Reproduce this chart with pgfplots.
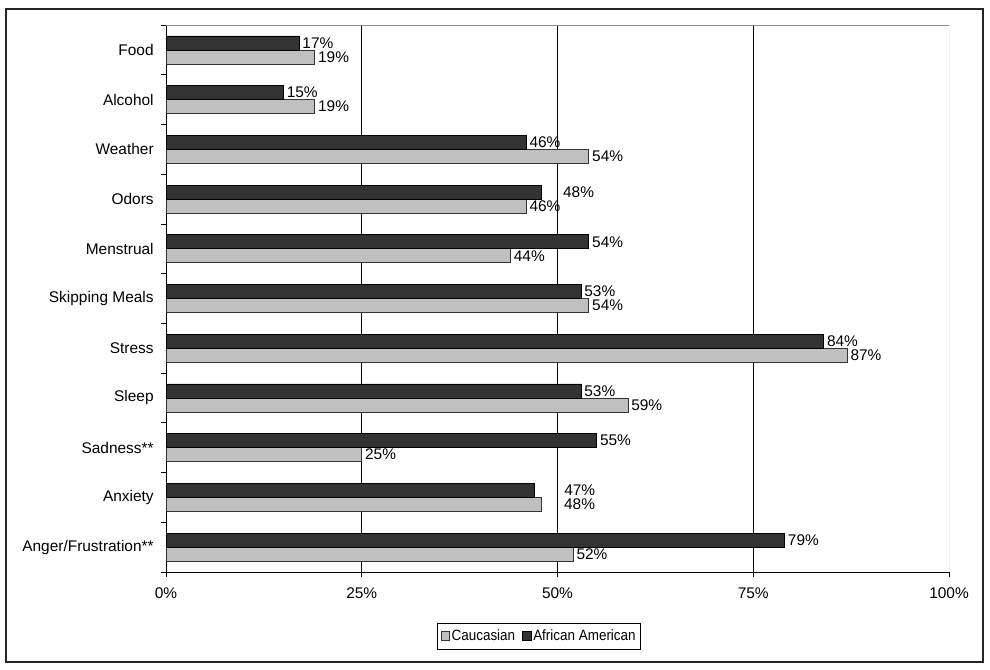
\documentclass[border=0pt]{standalone}
\usepackage{pgfplots}
\usepackage{pgfplotstable}
\pgfplotsset{compat=1.18}
\usepackage{fontspec}
\setmainfont{Liberation Sans}
\newfontfamily\legfont{Liberation Sans}[FakeStretch=0.9]
\definecolor{aa}{HTML}{333333}
\definecolor{ca}{HTML}{C0C0C0}
\pgfplotstableread{
y aa adx ca cdx
10 17 0 19 0
9 15 0 19 0
8 46 0 54 0
7 48 18 46 0
6 54 0 44 0
5 53 0 54 0
4 84 0 87 0
3 53 0 59 0
2 55 0 25 0
1 47 27 48 19
0 79 0 52 0
}\datatable
\begin{document}
\fontsize{15.5}{18}\selectfont
\begin{tikzpicture}
\useasboundingbox (0,0) rectangle (990bp,670bp);
\draw[line width=1.3bp, black!85] (6bp,8bp) rectangle (983bp,661bp);
\begin{axis}[
  at={(166bp,98bp)}, anchor=south west,
  scale only axis, width=783bp, height=547bp,
  xmin=0, xmax=100, ymin=-0.5, ymax=10.5,
  axis x line*=bottom, axis y line*=left,
  axis line style={black, line width=0.8bp},
  /pgf/number format/assume math mode=true,
  xtick={0,25,50,75,100},
  xticklabel={\pgfmathprintnumber{\tick}\%},
  extra x ticks={25,50,75}, extra x tick labels={},
  extra x tick style={grid=major, major grid style={black, line width=0.8bp}},
  ytick={-0.5,0.5,...,10.5},
  yticklabels={},
  extra y ticks={0,...,10},
  extra y tick labels={Anger/Frustration**, Anxiety, Sadness**, Sleep, Stress, Skipping Meals, Menstrual, Odors, Weather, Alcohol, Food},
  extra y tick style={major tick length=0pt, yticklabel style={xshift=-7bp}},
  tick align=outside,
  tick style={black, line width=0.8bp},
  major tick length=5bp,
  xticklabel style={yshift=-5bp},
  tick label style={font=\fontsize{15.5}{18}\selectfont},
  xbar, bar width=14bp,
  point meta=x,
  nodes near coords={\pgfmathprintnumber{\pgfplotspointmeta}\%},
  nodes near coords style={font=\fontsize{15.5}{18}\selectfont, anchor=west, inner sep=3bp},
  legend style={at={(0.4765,-0.117)}, anchor=center, legend columns=-1, draw=black, line width=0.6bp,
    font=\legfont\fontsize{15}{17}\selectfont, inner xsep=3bp, inner ysep=4.5bp, /tikz/every even column/.append style={column sep=5bp}},
  legend image code/.code={\draw[#1, line width=0.6bp] (0bp,-4.5bp) rectangle (8.5bp,4.5bp);},
]
\addplot[fill=ca, draw=black!80, line width=0.7bp, bar shift=-7bp,
  visualization depends on={\thisrow{cdx}\as\dx},
  every node near coord/.append style={xshift=\dx pt}]
  table[x=ca, y=y] {\datatable};
\addlegendentry{Caucasian}
\addplot[fill=aa, draw=black, line width=0.7bp, bar shift=7bp,
  visualization depends on={\thisrow{adx}\as\dx},
  every node near coord/.append style={xshift=\dx pt}]
  table[x=aa, y=y] {\datatable};
\addlegendentry{African American}
\draw[black!45, line width=0.8bp] (rel axis cs:0,1) -- (rel axis cs:1,1) -- (rel axis cs:1,0);
\end{axis}
\end{tikzpicture}
\end{document}
